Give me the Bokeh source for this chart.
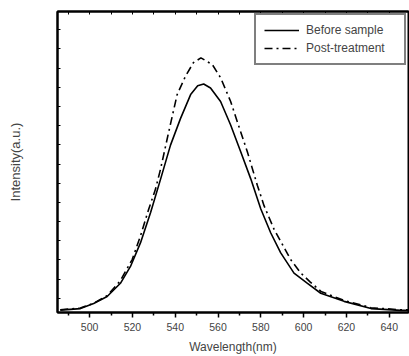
from bokeh.plotting import figure
from bokeh.models import LinearAxis, FixedTicker, Legend, LegendItem, Range1d, CustomJSTickFormatter
from bokeh.embed import file_html
from bokeh.resources import INLINE
import numpy as np

# Data (wavelength in nm, intensity in arbitrary units)
before_wl = [486.3, 495.7, 501.9, 508.2, 514.4, 519.1, 523.8, 528.5, 533.2, 537.8,
             542.5, 547.2, 550.5, 553.3, 556.5, 561.2, 565.9, 570.6, 575.3, 580.0,
             584.6, 589.3, 595.5, 601.8, 608.0, 618.9, 631.5, 645.4, 649.0]
before_int = [0.8, 1.3, 3.0, 5.3, 9.7, 15.3, 23.2, 33.2, 44.4, 55.6,
              64.5, 72.4, 75.3, 75.9, 74.6, 70.1, 62.3, 53.4, 44.4, 34.4,
              26.5, 19.8, 13.1, 9.7, 6.4, 3.7, 1.3, 0.7, 0.7]

post_wl = [486.3, 495.7, 501.9, 508.2, 514.4, 519.9, 523.8, 527.6, 530.8, 533.2,
           537.0, 540.9, 544.8, 548.5, 552.0, 557.3, 561.2, 565.9, 569.0, 573.7,
           578.4, 581.5, 586.2, 594.0, 598.7, 603.0, 608.1, 618.9, 631.5, 645.4,
           649.0]
post_int = [0.9, 1.5, 3.1, 5.6, 10.6, 17.6, 25.5, 34.3, 41.0, 47.8,
            60.1, 72.4, 78.5, 83.0, 84.6, 82.4, 78.0, 70.1, 63.4, 53.4,
            42.2, 35.5, 27.6, 17.5, 13.1, 10.2, 7.0, 4.0, 1.6, 0.9,
            0.9]

x_major = [500, 520, 540, 560, 580, 600, 620, 640]
x_minor = [490, 510, 530, 550, 570, 590, 610, 630]
labels = ["Before sample", "Post-treatment"]

FONT = "Liberation Sans"

p = figure(width=409, height=356, output_backend="svg", toolbar_location=None,
           x_range=Range1d(485, 649), y_range=Range1d(0, 100),
           min_border_left=57, min_border_right=1, min_border_top=11, min_border_bottom=0,
           x_axis_label="Wavelength(nm)", y_axis_label="Intensity(a.u.)")

p.grid.visible = False
p.outline_line_color = "black"
p.outline_line_width = 2
p.background_fill_color = "white"
p.border_fill_color = "white"

# bottom axis
xa = p.xaxis[0]
xa.ticker = FixedTicker(ticks=x_major, minor_ticks=x_minor)
xa.axis_line_width = 2
xa.major_tick_out = 5
xa.major_tick_in = 0
xa.minor_tick_out = 3
xa.minor_tick_in = 0
xa.major_tick_line_width = 1.5
xa.minor_tick_line_width = 1.5
xa.major_label_text_font = FONT
xa.major_label_text_font_size = "10.5px"
xa.major_label_standoff = 5
xa.axis_label_text_font = FONT
xa.axis_label_text_font_size = "12px"
xa.axis_label_text_font_style = "normal"
xa.axis_label_standoff = 6

# left axis (no labels, inward ticks)
ya = p.yaxis[0]
ya.ticker = FixedTicker(ticks=list(np.arange(4.7, 100, 6.376)), minor_ticks=[])
ya.formatter = CustomJSTickFormatter(code="return ''")
ya.axis_line_width = 2
ya.major_tick_in = 3
ya.major_tick_out = 0
ya.minor_tick_in = 0
ya.minor_tick_out = 0
ya.major_label_text_font_size = "0px"
ya.major_label_standoff = 0
ya.axis_label_text_font = FONT
ya.axis_label_text_font_size = "13px"
ya.axis_label_text_font_style = "normal"
ya.axis_label_standoff = 35

# top axis with inward ticks
top = LinearAxis(ticker=FixedTicker(ticks=x_major + x_minor, minor_ticks=[]),
                 formatter=CustomJSTickFormatter(code="return ''"))
top.axis_line_width = 2
top.major_tick_in = 3
top.major_tick_out = 0
top.minor_tick_in = 0
top.minor_tick_out = 0
top.major_label_text_font_size = "0px"
top.major_label_standoff = 0
p.add_layout(top, "above")

r1 = p.line(before_wl, before_int, line_color="black", line_width=1.6)
r2 = p.line(post_wl, post_int, line_color="black", line_width=1.6, line_dash="8 4 2 4")

legend = Legend(items=[LegendItem(label=labels[0], renderers=[r1]),
                       LegendItem(label=labels[1], renderers=[r2])],
                location="top_right")
legend.border_line_color = "black"
legend.border_line_width = 2
legend.background_fill_color = "white"
legend.background_fill_alpha = 1
legend.label_text_font = FONT
legend.label_text_font_size = "12px"
legend.padding = 8
legend.margin = 2
legend.spacing = 4
legend.glyph_width = 35
legend.glyph_height = 14
legend.label_height = 14
legend.label_width = 90
legend.label_standoff = 7
p.add_layout(legend)

open("out.html", "w").write(file_html(p, INLINE))
